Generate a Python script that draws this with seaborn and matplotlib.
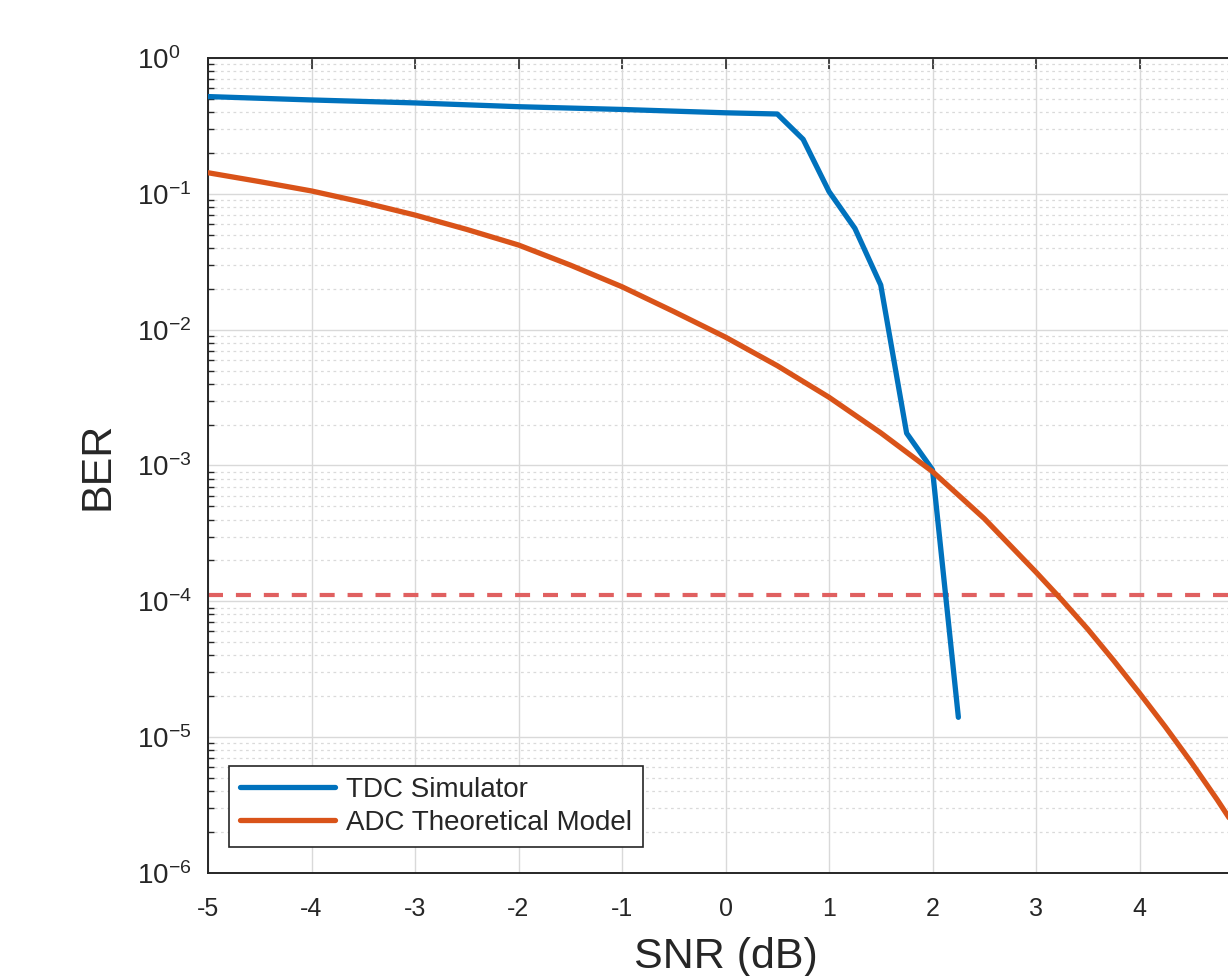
import numpy as np
import pandas as pd
import matplotlib
matplotlib.use("Agg")
import matplotlib.pyplot as plt
import matplotlib.ticker as mticker
import seaborn as sns

# SNR sweep (dB) and measured BER of the TDC simulator
tdc_snr = [-5, -4, -3, -2, -1, 0, 0.5, 0.75, 1.0, 1.25, 1.5, 1.75, 2.0, 2.25]
tdc_ber = [0.520, 0.491, 0.467, 0.438, 0.418, 0.395, 0.387, 0.252, 0.104,
           0.0557, 0.0213, 0.00173, 0.00093, 1.40e-5]

# Theoretical ADC BER curve
adc_snr = [-5, -4.5, -4, -3.5, -3, -2.5, -2, -1.5, -1, -0.5, 0, 0.5, 1, 1.5,
           2, 2.5, 3, 3.25, 3.5, 3.75, 4, 4.25, 4.5, 4.75, 5]
adc_ber = [0.143, 0.123, 0.105, 0.0865, 0.0698, 0.0547, 0.0420, 0.0299,
           0.0207, 0.0136, 0.00881, 0.00543, 0.00318, 0.00174, 0.000902,
           0.000407, 0.000164, 1.023e-4, 6.24e-5, 3.67e-5, 2.11e-5, 1.19e-5,
           6.53e-6, 3.47e-6, 1.78e-6]

# Target BER threshold
ber_threshold = 1.11e-4

series_names = ["TDC Simulator", "ADC Theoretical Model"]
series_colors = ["#0072BD", "#D95319"]

sns.set_theme(style="white")
plt.rcParams["font.family"] = ["Liberation Sans", "DejaVu Sans"]
plt.rcParams["mathtext.fontset"] = "custom"
plt.rcParams["mathtext.rm"] = "Liberation Sans"
plt.rcParams["mathtext.it"] = "Liberation Sans:italic"
plt.rcParams["mathtext.bf"] = "Liberation Sans:bold"
plt.rcParams["axes.unicode_minus"] = False

df = pd.concat([
    pd.DataFrame({"SNR": tdc_snr, "BER": tdc_ber, "series": series_names[0]}),
    pd.DataFrame({"SNR": adc_snr, "BER": adc_ber, "series": series_names[1]}),
], ignore_index=True)

fig = plt.figure(figsize=(12.28, 9.76), dpi=100)
fig.patch.set_facecolor("white")
ax = fig.add_axes([208 / 1228, 103 / 976, 1035 / 1228, 815 / 976])
ax.set_facecolor("white")

sns.lineplot(data=df, x="SNR", y="BER", hue="series", hue_order=series_names,
             palette=series_colors, sort=False, estimator=None,
             linewidth=3.8, ax=ax, legend=False, zorder=3)
ax.axhline(ber_threshold, color="#E06060", linestyle=(0, (3.6, 3.1)),
           linewidth=3.0, zorder=2.5)

ax.set_yscale("log")
ax.set_xlim(-5, 5)
ax.set_ylim(1e-6, 1)
ax.set_xticks(np.arange(-5, 6, 1))
ax.yaxis.set_major_locator(mticker.LogLocator(base=10, numticks=10))
ax.yaxis.set_minor_locator(mticker.LogLocator(base=10, subs=np.arange(2, 10), numticks=100))
ax.yaxis.set_minor_formatter(mticker.NullFormatter())

# grid: solid major lines, dotted minor lines on the log axis
ax.grid(True, which="major", axis="both", color="#D9D9D9", linewidth=1.0, zorder=0)
ax.grid(True, which="minor", axis="y", color="#DADADA", linewidth=0.9,
        linestyle=(0, (2.2, 2.8)), zorder=0)
ax.set_axisbelow(True)

for side in ["left", "right", "top", "bottom"]:
    ax.spines[side].set_visible(True)
    ax.spines[side].set_color("#262626")
    ax.spines[side].set_linewidth(1.4)

ax.tick_params(axis="both", which="major", direction="in", length=8, width=1.2,
               colors="#262626", top=True, right=True)
ax.tick_params(axis="y", which="minor", direction="in", length=4.5, width=1.0,
               colors="#262626", left=True, right=True)
ax.tick_params(axis="x", which="major", pad=17, labelsize=18)
ax.tick_params(axis="y", which="major", pad=51, labelsize=20)
for lbl in ax.get_yticklabels():
    lbl.set_horizontalalignment("left")
    lbl.set_verticalalignment("center_baseline")

ax.set_xlabel("SNR (dB)", fontsize=31, color="#262626", labelpad=12)
ax.set_ylabel("BER", fontsize=31, color="#262626", labelpad=14)

handles = [plt.Line2D([0], [0], color=c, linewidth=3.8) for c in series_colors]
leg = ax.legend(handles, series_names, loc="lower left",
                bbox_to_anchor=(0.0203, 0.0319), borderaxespad=0,
                fontsize=20, frameon=True, fancybox=False, framealpha=1,
                edgecolor="#262626", handlelength=3.4, handletextpad=0.4,
                labelspacing=0.25, borderpad=0.4)
leg.get_frame().set_linewidth(1.2)
for t in leg.get_texts():
    t.set_color("#262626")

fig.savefig("out.png", dpi=100, facecolor="white")
